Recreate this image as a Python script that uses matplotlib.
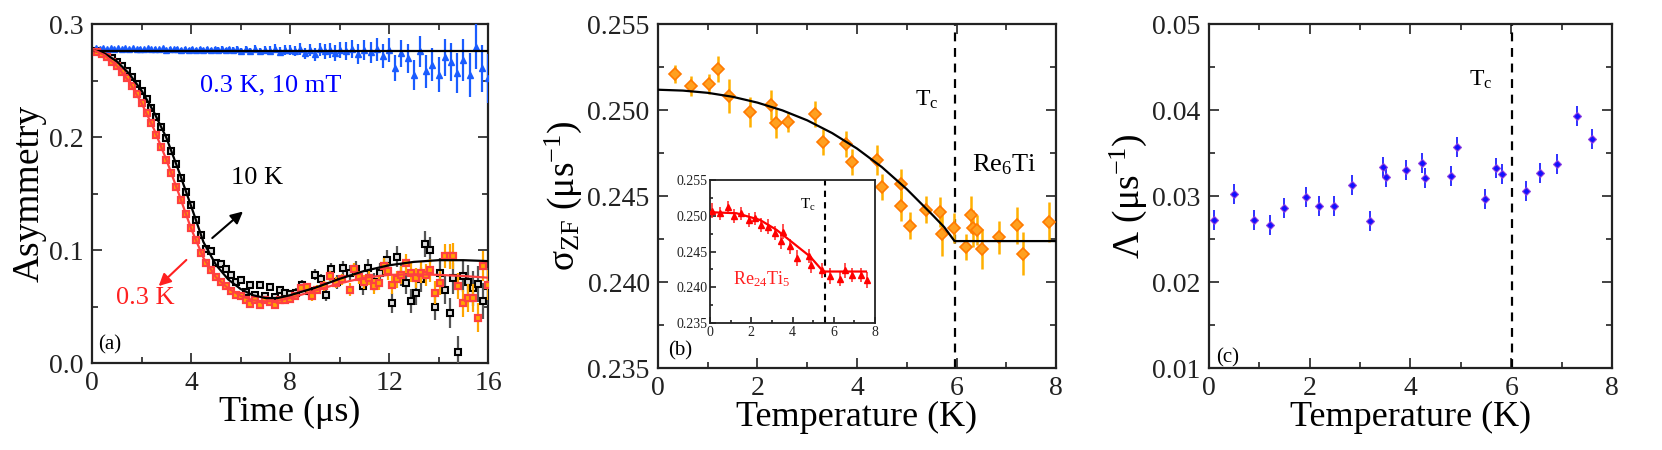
import matplotlib
matplotlib.use('Agg')
import matplotlib.pyplot as plt
from matplotlib.ticker import MultipleLocator, FormatStrFormatter

plt.rcParams['font.family'] = ['Liberation Serif', 'DejaVu Serif']
plt.rcParams['mathtext.fontset'] = 'custom'
plt.rcParams['mathtext.rm'] = 'Liberation Serif'
plt.rcParams['mathtext.it'] = 'Liberation Serif:italic'
plt.rcParams['mathtext.default'] = 'rm'

# ---------------- panel (a): asymmetry vs time ----------------
blue_t = [0.15, 0.30, 0.45, 0.60, 0.75, 0.90, 1.05, 1.20, 1.35, 1.50, 1.65, 1.80, 1.95, 2.10,
          2.25, 2.40, 2.55, 2.70, 2.85, 3.00, 3.15, 3.30, 3.45, 3.60, 3.75, 3.90, 4.05, 4.20,
          4.35, 4.50, 4.65, 4.80, 4.95, 5.10, 5.25, 5.40, 5.55, 5.70, 5.85, 6.00,
          6.20, 6.40, 6.60, 6.80, 7.00, 7.20, 7.40, 7.60, 7.80, 8.00, 8.20, 8.40, 8.60, 8.80,
          9.00, 9.20, 9.40, 9.60, 9.80, 10.00,
          10.25, 10.50, 10.75, 11.00, 11.25, 11.50, 11.75, 12.00, 12.25, 12.50, 12.75, 13.00,
          13.25, 13.50, 13.75, 14.00, 14.25, 14.50, 14.75, 15.00, 15.25, 15.50, 15.75, 16.00]
blue_y = [0.2790, 0.2780, 0.2788, 0.2778, 0.2786, 0.2779, 0.2785, 0.2777, 0.2784, 0.2778,
          0.2786, 0.2776, 0.2783, 0.2777, 0.2785, 0.2775, 0.2782, 0.2776, 0.2784, 0.2774,
          0.2781, 0.2775, 0.2783, 0.2772, 0.2780, 0.2774, 0.2782, 0.2770, 0.2779, 0.2772,
          0.2781, 0.2769, 0.2778, 0.2771, 0.2780, 0.2766, 0.2777, 0.2768, 0.2779, 0.2764,
          0.2775, 0.2762, 0.2778, 0.2758, 0.2772, 0.2765, 0.2780, 0.2755, 0.2768, 0.2772,
          0.2760, 0.2778, 0.2740, 0.2770, 0.2732, 0.2775, 0.2758, 0.2768, 0.2745, 0.2772,
          0.2760, 0.2778, 0.2735, 0.2770, 0.2750, 0.2775, 0.2718, 0.2770, 0.2610, 0.2740,
          0.2695, 0.2550, 0.2760, 0.2580, 0.2640, 0.2550, 0.2705, 0.2665, 0.2570, 0.2680,
          0.2550, 0.2800, 0.2610, 0.2520]
blue_err = [0.0010, 0.0010, 0.0010, 0.0010, 0.0011, 0.0011, 0.0011, 0.0011, 0.0012, 0.0012,
            0.0012, 0.0012, 0.0013, 0.0013, 0.0013, 0.0013, 0.0014, 0.0014, 0.0014, 0.0015,
            0.0015, 0.0015, 0.0016, 0.0016, 0.0017, 0.0017, 0.0018, 0.0018, 0.0019, 0.0019,
            0.0020, 0.0021, 0.0021, 0.0022, 0.0023, 0.0023, 0.0024, 0.0025, 0.0026, 0.0027,
            0.0029, 0.0030, 0.0032, 0.0033, 0.0035, 0.0037, 0.0039, 0.0041, 0.0043, 0.0045,
            0.0047, 0.0050, 0.0052, 0.0055, 0.0058, 0.0061, 0.0064, 0.0067, 0.0070, 0.0073,
            0.0077, 0.0081, 0.0085, 0.0089, 0.0093, 0.0098, 0.0103, 0.0108, 0.0113, 0.0118,
            0.0124, 0.0130, 0.0136, 0.0142, 0.0148, 0.0155, 0.0162, 0.0169, 0.0176, 0.0184,
            0.0192, 0.0200, 0.0208, 0.0216]
blue_fit_t = [0.1, 16.0]
blue_fit_y = [0.2758, 0.2758]

black_t = [0.2, 0.4, 0.6, 0.8, 1.0, 1.2, 1.4, 1.6, 1.8, 2.0, 2.2, 2.4, 2.6, 2.8, 3.0, 3.2,
           3.4, 3.6, 3.8, 4.0, 4.2, 4.4, 4.6, 4.8, 5.0, 5.2, 5.4, 5.6, 5.8, 6.0, 6.2, 6.4,
           6.6, 6.8, 7.0, 7.2, 7.4, 7.6, 7.8, 8.0,
           8.25, 8.5, 8.75, 9.0, 9.25, 9.45, 9.65, 9.9, 10.15, 10.4, 10.65, 10.95, 11.15,
           11.4, 11.65, 11.9, 12.1, 12.3, 12.5, 12.7, 12.9, 13.1, 13.3, 13.45, 13.65, 13.85,
           14.05, 14.25, 14.45, 14.6, 14.8, 15.0, 15.2, 15.4, 15.6, 15.8, 16.0]
black_y = [0.2760, 0.2745, 0.2728, 0.2700, 0.2668, 0.2628, 0.2582, 0.2528, 0.2472, 0.2408,
           0.2335, 0.2258, 0.2180, 0.2085, 0.1990, 0.1880, 0.1762, 0.1640, 0.1515, 0.1395,
           0.1265, 0.1130, 0.1010, 0.0995, 0.0885, 0.0880, 0.0835, 0.0775, 0.0715, 0.0735,
           0.0625, 0.0688, 0.0600, 0.0688, 0.0595, 0.0675, 0.0585, 0.0648, 0.0620, 0.0612,
           0.062, 0.069, 0.064, 0.078, 0.074, 0.060, 0.083, 0.072, 0.084, 0.080, 0.083,
           0.068, 0.084, 0.072, 0.080, 0.091, 0.053, 0.094, 0.078, 0.071, 0.055, 0.062,
           0.074, 0.105, 0.100, 0.050, 0.080, 0.065, 0.044, 0.075, 0.0095, 0.077, 0.072,
           0.066, 0.070, 0.055, 0.068]
black_err = [0.0008, 0.0008, 0.0008, 0.0009, 0.0009, 0.0009, 0.0010, 0.0010, 0.0010, 0.0011,
             0.0011, 0.0012, 0.0012, 0.0013, 0.0013, 0.0014, 0.0014, 0.0015, 0.0016, 0.0016,
             0.0017, 0.0018, 0.0019, 0.0020, 0.0021, 0.0022, 0.0023, 0.0024, 0.0025, 0.0026,
             0.0027, 0.0028, 0.0029, 0.0030, 0.0031, 0.0032, 0.0034, 0.0035, 0.0037, 0.0038,
             0.0040, 0.0043, 0.0046, 0.0049, 0.0052, 0.0055, 0.0058, 0.0061, 0.0064, 0.0067,
             0.0070, 0.0074, 0.0077, 0.0080, 0.0083, 0.0087, 0.0090, 0.0093, 0.0097, 0.0100,
             0.0104, 0.0107, 0.0111, 0.0114, 0.0118, 0.0121, 0.0125, 0.0129, 0.0132, 0.0136,
             0.0140, 0.0144, 0.0148, 0.0152, 0.0156, 0.0160, 0.0164]
black_fit_t = [0.1, 0.5, 1.0, 1.5, 2.0, 2.5, 3.0, 3.5, 4.0, 4.5, 5.0, 5.5, 6.0, 6.5, 7.0,
               7.5, 8.0, 9.0, 10.0, 11.0, 12.0, 13.0, 14.0, 15.0, 16.0]
black_fit_y = [0.2765, 0.2740, 0.2670, 0.2560, 0.2410, 0.2220, 0.1995, 0.1700, 0.1390,
               0.1070, 0.0870, 0.0740, 0.0655, 0.0600, 0.0575, 0.0575, 0.0600, 0.0665,
               0.0745, 0.0815, 0.0865, 0.0895, 0.0910, 0.0910, 0.0902]

red_t = [0.2, 0.4, 0.6, 0.8, 1.0, 1.2, 1.4, 1.6, 1.8, 2.0, 2.2, 2.4, 2.6, 2.8, 3.0, 3.2,
         3.4, 3.6, 3.8, 4.0, 4.2, 4.4, 4.6, 4.8, 5.0, 5.2, 5.4, 5.6, 5.8, 6.0, 6.2, 6.4,
         6.6, 6.8, 7.0, 7.2, 7.4, 7.6, 7.8, 8.0,
         8.2, 8.45, 8.7, 8.9, 9.1, 9.35, 9.6, 9.85, 10.1, 10.4, 10.6, 10.8, 11.0, 11.2,
         11.4, 11.6, 11.8, 11.95, 12.1, 12.3, 12.5, 12.7, 12.9, 13.1, 13.3, 13.5, 13.65,
         13.85, 14.05, 14.25, 14.45, 14.6, 14.8, 15.0, 15.2, 15.4, 15.6, 15.8, 16.0]
red_y = [0.2755, 0.2735, 0.2705, 0.2665, 0.2625, 0.2575, 0.2520, 0.2455, 0.2385, 0.2300,
         0.2215, 0.2120, 0.2020, 0.1910, 0.1800, 0.1680, 0.1560, 0.1440, 0.1315, 0.1195,
         0.1085, 0.0975, 0.0885, 0.0820, 0.0760, 0.0715, 0.0680, 0.0640, 0.0605, 0.0590,
         0.0560, 0.0520, 0.0560, 0.0515, 0.0560, 0.0540, 0.0515, 0.0555, 0.0560, 0.0565,
         0.0590, 0.0660, 0.0670, 0.0590, 0.0650, 0.0680, 0.0770, 0.0710, 0.0740, 0.0650,
         0.0830, 0.0760, 0.0720, 0.0750, 0.0680, 0.0710, 0.0860, 0.0810, 0.0690, 0.0740,
         0.0780, 0.0885, 0.0800, 0.0750, 0.0800, 0.0780, 0.0820, 0.0620, 0.0710, 0.0945,
         0.0945, 0.0945, 0.0680, 0.0530, 0.0575, 0.0575, 0.0400, 0.0860, 0.0690]
red_err = [0.0008, 0.0008, 0.0008, 0.0009, 0.0009, 0.0009, 0.0010, 0.0010, 0.0010, 0.0011,
           0.0011, 0.0012, 0.0012, 0.0013, 0.0013, 0.0014, 0.0014, 0.0015, 0.0015, 0.0016,
           0.0016, 0.0017, 0.0018, 0.0018, 0.0019, 0.0020, 0.0021, 0.0021, 0.0022, 0.0023,
           0.0024, 0.0025, 0.0026, 0.0027, 0.0028, 0.0029, 0.0030, 0.0031, 0.0032, 0.0033,
           0.0035, 0.0037, 0.0039, 0.0041, 0.0043, 0.0045, 0.0047, 0.0049, 0.0051, 0.0054,
           0.0056, 0.0058, 0.0061, 0.0063, 0.0066, 0.0068, 0.0071, 0.0073, 0.0076, 0.0078,
           0.0081, 0.0084, 0.0087, 0.0090, 0.0093, 0.0096, 0.0099, 0.0102, 0.0105, 0.0108,
           0.0111, 0.0114, 0.0117, 0.0120, 0.0123, 0.0126, 0.0129, 0.0132, 0.0135]
red_fit_t = [0.1, 0.5, 1.0, 1.5, 2.0, 2.5, 3.0, 3.5, 4.0, 4.5, 5.0, 5.5, 6.0, 6.5, 7.0,
             7.5, 8.0, 9.0, 10.0, 11.0, 12.0, 13.0, 14.0, 15.0, 16.0]
red_fit_y = [0.2765, 0.2725, 0.2630, 0.2490, 0.2300, 0.2070, 0.1800, 0.1500, 0.1190,
             0.0930, 0.0760, 0.0660, 0.0595, 0.0555, 0.0545, 0.0550, 0.0575, 0.0640,
             0.0705, 0.0755, 0.0780, 0.0785, 0.0780, 0.0770, 0.0755]

# ---------------- panel (b): sigma_ZF vs T (Re6Ti) ----------------
sig_T = [0.35, 0.67, 1.02, 1.21, 1.43, 1.85, 2.27, 2.38, 2.62, 3.16, 3.31, 3.77, 3.89, 4.40,
         4.50, 4.89, 4.89, 5.07, 5.38, 5.66, 5.70, 5.94, 6.19, 6.29, 6.33, 6.42, 6.51, 6.85,
         7.21, 7.34, 7.85]
sig_y = [0.25210, 0.25141, 0.25153, 0.25238, 0.25083, 0.24986, 0.25031, 0.24924, 0.24930,
         0.24977, 0.24814, 0.24802, 0.24698, 0.24707, 0.24552, 0.24572, 0.24440, 0.24328,
         0.24421, 0.24409, 0.24279, 0.24312, 0.24204, 0.24391, 0.24312, 0.24304, 0.24192,
         0.24260, 0.24329, 0.24165, 0.24349]
sig_err = [0.00052, 0.00058, 0.00058, 0.00074, 0.00100, 0.00087, 0.00087, 0.00087, 0.00058,
           0.00074, 0.00078, 0.00078, 0.00078, 0.00087, 0.00078, 0.00087, 0.00087, 0.00078,
           0.00078, 0.00087, 0.00126, 0.00087, 0.00078, 0.00107, 0.00107, 0.00087, 0.00116,
           0.00097, 0.00107, 0.00126, 0.00116]
sig_fit_T = [0.0, 0.5, 1.0, 1.5, 2.0, 2.5, 3.0, 3.5, 4.0, 4.5, 5.0, 5.5, 5.75, 5.96, 8.0]
sig_fit_y = [0.25118, 0.25113, 0.25100, 0.25077, 0.25043, 0.24998, 0.24940, 0.24866,
             0.24776, 0.24668, 0.24540, 0.24395, 0.24320, 0.24238, 0.24238]
tc_b = 5.96

# inset: Re24Ti5
ins_T = [0.08, 0.48, 0.89, 1.16, 1.49, 1.89, 2.18, 2.46, 2.83, 3.15, 3.42, 3.52, 3.88, 4.23,
         4.81, 4.90, 5.43, 5.82, 6.30, 6.56, 6.88, 7.30, 7.61]
ins_y = [0.25072, 0.25035, 0.25119, 0.24998, 0.25035, 0.24942, 0.24965, 0.24867, 0.24849,
         0.24756, 0.24640, 0.24779, 0.24570, 0.24407, 0.24440, 0.24314, 0.24235, 0.24160,
         0.24114, 0.24235, 0.24170, 0.24174, 0.24105]
ins_err = [0.0010, 0.0009, 0.0009, 0.0010, 0.0009, 0.0010, 0.0009, 0.0010, 0.0010, 0.0010,
           0.0011, 0.0010, 0.0011, 0.0011, 0.0010, 0.0011, 0.0010, 0.0011, 0.0010, 0.0010,
           0.0010, 0.0010, 0.0011]
ins_fit_T = [0.0, 1.29, 2.42, 3.23, 4.04, 4.85, 5.49, 7.56]
ins_fit_y = [0.2505, 0.25035, 0.24942, 0.24802, 0.24616, 0.24430, 0.24220, 0.24220]
tc_ins = 5.59

# ---------------- panel (c): Lambda vs T ----------------
lam_T = [0.10, 0.50, 0.90, 1.21, 1.49, 1.92, 2.18, 2.48, 2.84, 3.19, 3.46, 3.52, 3.91, 4.22,
         4.28, 4.81, 4.93, 5.47, 5.69, 5.82, 6.29, 6.57, 6.90, 7.31, 7.61]
lam_y = [0.02717, 0.03023, 0.02725, 0.02663, 0.02857, 0.02988, 0.02880, 0.02880, 0.03132,
         0.02713, 0.03337, 0.03225, 0.03298, 0.03384, 0.03205, 0.03233, 0.03566, 0.02969,
         0.03329, 0.03260, 0.03054, 0.03267, 0.03372, 0.03926, 0.03663]
lam_err = [0.00116, 0.00116, 0.00116, 0.00116, 0.00116, 0.00116, 0.00116, 0.00116, 0.00116,
           0.00116, 0.00116, 0.00116, 0.00116, 0.00116, 0.00116, 0.00116, 0.00116, 0.00116,
           0.00116, 0.00116, 0.00116, 0.00116, 0.00116, 0.00116, 0.00116]
tc_c = 6.02


def style(ax, xmaj, xmin, ymaj, ymin, size=20, lw=1.6, ml=7, nl=4, pad=6):
    ax.xaxis.set_major_locator(MultipleLocator(xmaj))
    ax.xaxis.set_minor_locator(MultipleLocator(xmin))
    ax.yaxis.set_major_locator(MultipleLocator(ymaj))
    ax.yaxis.set_minor_locator(MultipleLocator(ymin))
    ax.tick_params(which='both', direction='in', top=True, right=True, width=1.2,
                   labelsize=size, colors='#222222', pad=pad)
    ax.tick_params(which='major', length=ml)
    ax.tick_params(which='minor', length=nl)
    for s in ax.spines.values():
        s.set_linewidth(lw)
        s.set_color('#222222')


fig = plt.figure(figsize=(16.62, 4.5), dpi=100)
axa = fig.add_axes([0.0554, 0.1933, 0.2383, 0.7533])
axb = fig.add_axes([0.3959, 0.1822, 0.2395, 0.7644])
axc = fig.add_axes([0.7274, 0.1822, 0.2425, 0.7644])
axi = fig.add_axes([0.4272, 0.2822, 0.0993, 0.3178])

# (a)
axa.errorbar(black_t, black_y, yerr=black_err, fmt='s', ms=4.2, mfc='#dddddd', mec='black',
             mew=1.5, ecolor='#555555', elinewidth=1.6, capsize=0, zorder=3)
axa.errorbar(red_t, red_y, yerr=red_err, fmt='s', ms=4.2, mfc='#ffa500', mec='#ff4040',
             mew=1.6, ecolor='#ffa500', elinewidth=1.6, capsize=0, zorder=4)
axa.errorbar(blue_t, blue_y, yerr=blue_err, fmt='^', ms=5, mfc='#1a5cff', mec='#1a5cff',
             ecolor='#1a5cff', elinewidth=1.6, capsize=0, zorder=3)
axa.plot(blue_fit_t, blue_fit_y, color='black', lw=1.6, zorder=5)
axa.plot(black_fit_t, black_fit_y, color='black', lw=1.6, zorder=5)
axa.plot(red_fit_t, red_fit_y, color='#ff4040', lw=1.6, zorder=6)
axa.set_xlim(0, 16)
axa.set_ylim(0, 0.3)
style(axa, 4, 2, 0.1, 0.05)
axa.yaxis.set_major_formatter(FormatStrFormatter('%.1f'))
axa.set_xlabel('Time (μs)', fontsize=26, labelpad=0)
axa.set_ylabel('Asymmetry', fontsize=27, labelpad=2)
axa.text(7.2, 0.246, '0.3 K, 10 mT', color='#0000ff', fontsize=19, ha='center', va='center')
axa.text(6.65, 0.164, '10 K', color='black', fontsize=19, ha='center', va='center')
axa.text(2.15, 0.0575, '0.3 K', color='#ff2020', fontsize=19, ha='center', va='center')
axa.annotate('', xy=(6.18, 0.1357), xytext=(4.77, 0.109),
             arrowprops=dict(arrowstyle='-|>', color='black', lw=1.5, mutation_scale=18))
axa.annotate('', xy=(2.61, 0.0664), xytext=(3.89, 0.0929),
             arrowprops=dict(arrowstyle='-|>', color='#ff2020', lw=1.5, mutation_scale=18))
axa.text(0.25, 0.012, '(a)', fontsize=15)

# (b)
axb.errorbar(sig_T, sig_y, yerr=sig_err, fmt='D', ms=6, mfc='#ffa020', mec='#ff7a00',
             mew=1.2, ecolor='#ffb000', elinewidth=1.8, capsize=0, zorder=3)
axb.plot(sig_fit_T, sig_fit_y, color='black', lw=1.6, zorder=4)
axb.axvline(tc_b, color='black', ls=(0, (4, 3)), lw=1.6)
axb.set_xlim(0, 8)
axb.set_ylim(0.235, 0.255)
style(axb, 2, 1, 0.005, 0.0025)
axb.yaxis.set_major_formatter(FormatStrFormatter('%.3f'))
axb.set_xlabel('Temperature (K)', fontsize=26, labelpad=0)
axb.set_ylabel('σ$_{\\mathrm{ZF}}$ (μs$^{-1}$)', fontsize=27, labelpad=2)
axb.text(5.4, 0.2506, 'T$_{\\mathrm{c}}$', fontsize=17, ha='center', va='center')
axb.text(6.95, 0.2468, 'Re$_{6}$Ti', fontsize=19, ha='center', va='center')
axb.text(0.2, 0.2357, '(b)', fontsize=15)

# inset
axi.errorbar(ins_T, ins_y, yerr=ins_err, fmt='^', ms=4.5, mfc='#ff0000', mec='#ff0000',
             ecolor='#ff2020', elinewidth=1.1, capsize=0, zorder=3)
axi.plot(ins_fit_T, ins_fit_y, color='#ff0000', lw=1.6, zorder=4)
axi.axvline(tc_ins, color='black', ls=(0, (3, 2.5)), lw=1.5)
axi.set_xlim(0, 8)
axi.set_ylim(0.235, 0.255)
style(axi, 2, 1, 0.005, 0.0025, size=10, lw=1.3, ml=4, nl=2.5, pad=2)
axi.tick_params(top=False, right=False, which='both')
axi.yaxis.set_major_formatter(FormatStrFormatter('%.3f'))
axi.text(4.75, 0.2515, 'T$_{\\mathrm{c}}$', fontsize=11, ha='center', va='center')
axi.text(2.5, 0.2411, 'Re$_{24}$Ti$_{5}$', fontsize=13, color='#ff2020', ha='center',
         va='center')

# (c)
axc.errorbar(lam_T, lam_y, yerr=lam_err, fmt='D', ms=4, mfc='#1010ff', mec='#9040e0',
             mew=0.8, ecolor='#2020ff', elinewidth=1.3, capsize=0, zorder=3)
axc.axvline(tc_c, color='black', ls=(0, (4, 3)), lw=1.6)
axc.set_xlim(0, 8)
axc.set_ylim(0.01, 0.05)
style(axc, 2, 1, 0.01, 0.005)
axc.yaxis.set_major_formatter(FormatStrFormatter('%.2f'))
axc.set_xlabel('Temperature (K)', fontsize=26, labelpad=0)
axc.set_ylabel('Λ (μs$^{-1}$)', fontsize=27, labelpad=2)
axc.text(5.4, 0.0435, 'T$_{\\mathrm{c}}$', fontsize=17, ha='center', va='center')
axc.text(0.15, 0.0107, '(c)', fontsize=15)

fig.savefig('out.png', dpi=100)
